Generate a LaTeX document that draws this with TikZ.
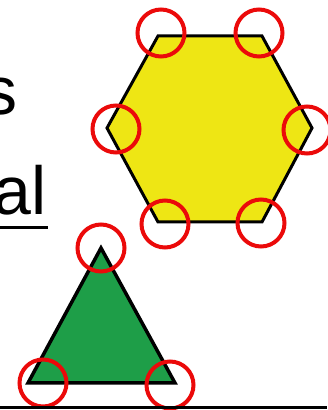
\documentclass[tikz,border=0pt]{standalone}
\usepackage{fontspec}
\setmainfont{Liberation Sans}
\usetikzlibrary{positioning}
\definecolor{hexyellow}{RGB}{238,230,20}
\definecolor{trigreen}{RGB}{30,158,72}
\definecolor{ringred}{RGB}{235,10,10}

\begin{document}
\begin{tikzpicture}[x=1pt, y=1pt,
  ring/.style={draw=ringred, line width=4pt, circle, minimum size=47pt, inner sep=0pt},
  word/.style={anchor=base east, inner sep=0pt, font=\fontsize{68}{68}\selectfont}]
  \useasboundingbox (0,0) rectangle (327,410);
  % hexagon
  \coordinate (h1) at (158,374);
  \coordinate (h2) at (262,374);
  \coordinate (h3) at (312,282);
  \coordinate (h4) at (262,188);
  \coordinate (h5) at (158,188);
  \coordinate (h6) at (107,282);
  \filldraw[fill=hexyellow, draw=black, line width=3pt, line join=miter]
    (h1) -- (h2) -- (h3) -- (h4) -- (h5) -- (h6) -- cycle;
  % triangle
  \coordinate (t1) at (101,162);
  \coordinate (t2) at (175,27);
  \coordinate (t3) at (28,27);
  \filldraw[fill=trigreen, draw=black, line width=3.5pt, line join=miter]
    (t1) -- (t2) -- (t3) -- cycle;
  % rings on the corners
  \node[ring] (r1) at (161,377) {};
  \node[ring] (r2) at (259,377) {};
  \node[ring] (r3) at (307,280) {};
  \node[ring] (r4) at (261,187) {};
  \node[ring] (r5) at (165,186) {};
  \node[ring] (r6) at (116,281) {};
  \node[ring] (r7) at (101,162) {};
  \node[ring] (r8) at (170,25) {};
  \node[ring] (r9) at (43,27) {};
  % words at the left edge
  \node[word] (w1) at (18,295) {s};
  \node[word] (w2) at (47,195) {al};
  \coordinate (u1) at (0,182);
  \coordinate (u2) at (48,182);
  \draw[line width=3pt] (u1) -- (u2);
  % bottom rule
  \coordinate (b1) at (0,2);
  \coordinate (b2) at (327,2);
  \draw[line width=3pt] (b1) -- (b2);
\end{tikzpicture}
\end{document}
